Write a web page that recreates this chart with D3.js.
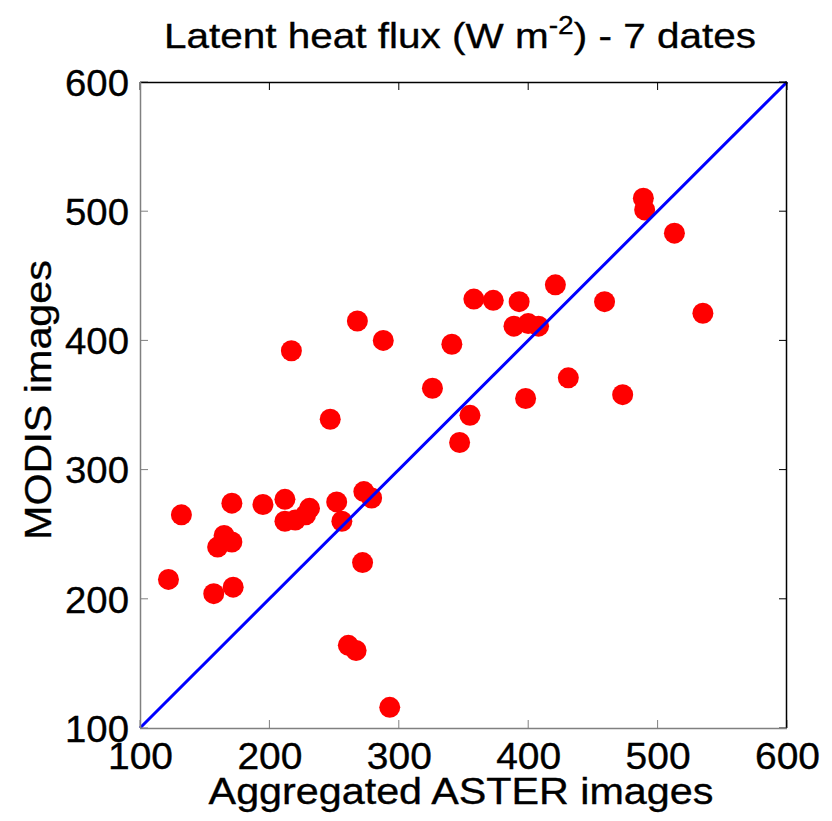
<!DOCTYPE html>
<html>
<head>
<meta charset="utf-8">
<script src="https://cdn.jsdelivr.net/npm/d3@7"></script>
<style>
html,body{margin:0;padding:0;background:#fff;}
text{font-family:"Liberation Sans",Arial,Helvetica,sans-serif;fill:#000;stroke:#000;stroke-width:0.35px;}
</style>
</head>
<body>
<svg id="chart" width="832" height="821"></svg>
<script>
const titleMain = "Latent heat flux (W m";
const titleSup = "-2";
const titleEnd = ") - 7 dates";
const xLabel = "Aggregated ASTER images";
const yLabel = "MODIS images";
const xTicks = [100, 200, 300, 400, 500, 600];
const yTicks = [100, 200, 300, 400, 500, 600];
const domain = [100, 600];

// Aggregated ASTER (x) and MODIS (y) latent heat flux values
const asterValues = [122,132,157,160,165,171,171,172,195,212,212,220,228,231,247,252,256,261,267,272,273,279,
  217,268,288,293,326,341,347,355,358,373,393,389,400,408,398,421,431,459,473,489,490,513,535];
const modisValues = [215,265,204,240,249,244,274,209,273,277,260,261,265,270,339,275,260,164,160,228,283,278,
  392,415,400,116,363,397,321,342,432,431,430,411,413,411,355,443,371,430,358,510,501,483,421];
const oneToOne = [100, 600];

const svg = d3.select("#chart");
const m = {left:140, right:787, top:82, bottom:728};
const x = d3.scaleLinear().domain(domain).range([m.left, m.right]);
const y = d3.scaleLinear().domain(domain).range([m.bottom, m.top]);
const grey = "#808080";
const tickLen = 8;
const FS = 37;

// horizontally stretch a text element about its anchor point (ax, ay)
function stretch(node, target, ax, ay) {
  const w = node.getBBox().width;
  const f = target / w;
  d3.select(node).attr("transform", `translate(${ax},${ay}) scale(${f},1) translate(${-ax},${-ay})`);
}

// points
svg.append("g").selectAll("circle")
  .data(asterValues.map((v,i)=>({x:v, y:modisValues[i]})))
  .join("circle")
  .attr("cx", d=>x(d.x)).attr("cy", d=>y(d.y)).attr("r", 10.5)
  .attr("fill", "#ff0000");

// 1:1 line
svg.append("line")
  .attr("x1", x(oneToOne[0])).attr("y1", y(oneToOne[0]))
  .attr("x2", x(oneToOne[1])).attr("y2", y(oneToOne[1]))
  .attr("stroke", "#0000ff").attr("stroke-width", 3);

// axes
const xAxis = d3.axisBottom(x).tickValues(xTicks).tickSize(0).tickPadding(0).tickFormat(d3.format("d"));
const gx = svg.append("g").attr("transform", `translate(0,${m.bottom})`).call(xAxis);
gx.select(".domain").remove();
gx.attr("font-size", null).attr("font-family", null);
gx.selectAll("text").attr("font-size", FS).attr("dy", null).attr("y", 41).attr("fill", "#000")
  .each(function(){ stretch(this, 65, 0, 0); });

const yAxis = d3.axisLeft(y).tickValues(yTicks).tickSize(0).tickPadding(0).tickFormat(d3.format("d"));
const gy = svg.append("g").attr("transform", `translate(${m.left},0)`).call(yAxis);
gy.select(".domain").remove();
gy.attr("font-size", null).attr("font-family", null);
gy.selectAll("text").attr("font-size", FS).attr("dy", "0.36em").attr("x", -11).attr("fill", "#000")
  .each(function(){ stretch(this, 64, -11, 0); });

// inner ticks
const tg = svg.append("g");
xTicks.forEach(t => {
  tg.append("line").attr("x1", x(t)).attr("x2", x(t)).attr("y1", m.bottom).attr("y2", m.bottom - tickLen).attr("stroke", grey).attr("stroke-width", 1);
  tg.append("line").attr("x1", x(t)).attr("x2", x(t)).attr("y1", m.top).attr("y2", m.top + tickLen).attr("stroke", "#000").attr("stroke-width", 1);
});
yTicks.forEach(t => {
  tg.append("line").attr("x1", m.left).attr("x2", m.left + tickLen).attr("y1", y(t)).attr("y2", y(t)).attr("stroke", grey).attr("stroke-width", 1);
  tg.append("line").attr("x1", m.right).attr("x2", m.right - tickLen).attr("y1", y(t)).attr("y2", y(t)).attr("stroke", "#000").attr("stroke-width", 1);
});
// frame
tg.append("line").attr("x1", m.left).attr("x2", m.right).attr("y1", m.top+0.5).attr("y2", m.top+0.5).attr("stroke", "#000").attr("stroke-width", 1.5);
tg.append("line").attr("x1", m.right-0.5).attr("x2", m.right-0.5).attr("y1", m.top).attr("y2", m.bottom).attr("stroke", "#000").attr("stroke-width", 1.5);
tg.append("line").attr("x1", m.left).attr("x2", m.right).attr("y1", m.bottom+0.5).attr("y2", m.bottom+0.5).attr("stroke", grey).attr("stroke-width", 1.5);
tg.append("line").attr("x1", m.left+0.5).attr("x2", m.left+0.5).attr("y1", m.top).attr("y2", m.bottom).attr("stroke", grey).attr("stroke-width", 1.5);

// title
const tx = 460, ty = 48;
const title = svg.append("text").attr("x", tx).attr("y", ty)
  .attr("text-anchor", "middle").attr("font-size", 36);
title.append("tspan").text(titleMain);
title.append("tspan").attr("dy", -14).attr("font-size", 25).text(titleSup);
title.append("tspan").attr("dy", 14).text(titleEnd);
stretch(title.node(), 592, tx, ty);

// axis labels
const lx = 461, ly = 804;
const xl = svg.append("text").attr("x", lx).attr("y", ly)
  .attr("text-anchor", "middle").attr("font-size", FS).text(xLabel);
stretch(xl.node(), 505, lx, ly);

const yl = svg.append("text").attr("x", 0).attr("y", 0)
  .attr("text-anchor", "middle").attr("font-size", FS).text(yLabel);
stretch(yl.node(), 280, 0, 0);
yl.attr("transform", `translate(51,400) rotate(-90) ` + yl.attr("transform"));
</script>
</body>
</html>
